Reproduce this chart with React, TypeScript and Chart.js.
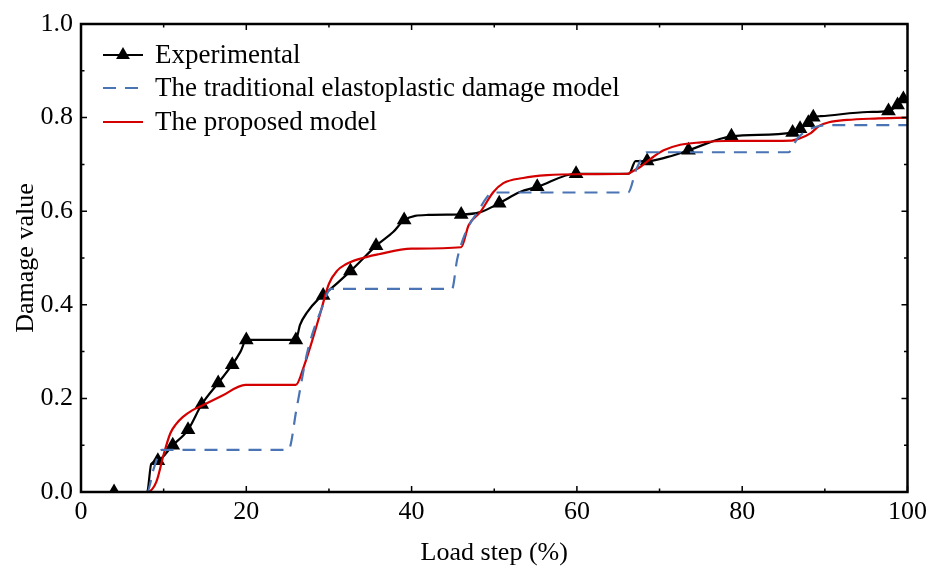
import React, { useEffect, useRef } from "react";
import { Chart, registerables } from "chart.js";

Chart.register(...registerables);

// Experimental data (x = load step %, y = damage value, m = marked with triangle)
const expX = [4, 8, 8.5, 9.3, 11.1, 12.95, 14.6, 16.6, 18.3, 19.3, 20, 26, 26.5, 27.4, 28.6, 29.3, 32.6, 35.7, 37.8, 39.1, 42, 46, 48.3, 50.6, 53.1, 55.2, 59.9, 66.3, 67.1, 68.5, 71, 73.5, 78.7, 86.1, 87.0, 88.0, 88.6, 89.5, 95.2, 97.7, 98.8, 99.5];
const expY = [0, 0, 0.06, 0.067, 0.1, 0.133, 0.187, 0.233, 0.272, 0.3, 0.325, 0.325, 0.357, 0.385, 0.41, 0.42, 0.472, 0.526, 0.556, 0.581, 0.592, 0.593, 0.598, 0.617, 0.641, 0.652, 0.68, 0.68, 0.707, 0.707, 0.716, 0.73, 0.76, 0.768, 0.776, 0.789, 0.801, 0.803, 0.812, 0.814, 0.827, 0.84];
const expMarked = [1, 0, 0, 1, 1, 1, 1, 1, 1, 0, 1, 1, 0, 0, 0, 1, 1, 1, 0, 1, 0, 1, 0, 1, 0, 1, 1, 0, 0, 1, 0, 1, 1, 1, 1, 1, 1, 0, 0, 1, 1, 1];

// Traditional elastoplastic damage model
const tradX = [0, 8, 8.8, 9.8, 25.1, 26.1, 27.4, 29.3, 30.2, 44.9, 45.5, 46.5, 47.9, 49.9, 66.2, 67.2, 68.5, 85.6, 86.7, 87.9, 90.3, 100];
const tradY = [0, 0, 0.05, 0.09, 0.09, 0.18, 0.3, 0.4, 0.434, 0.434, 0.496, 0.553, 0.596, 0.64, 0.64, 0.69, 0.726, 0.726, 0.756, 0.773, 0.784, 0.784];

// Proposed model
const propX = [0, 8, 9.1, 10, 10.8, 11.5, 12.3, 13.5, 14.8, 17, 19.9, 26, 27, 28, 29, 30, 31, 32, 33.5, 36, 40, 46, 46.9, 48.3, 49.9, 51.1, 53.5, 56.4, 60, 66.1, 66.8, 67.7, 69, 70.5, 72.5, 75, 78, 86, 87, 88.3, 89.3, 90.5, 92.7, 96, 100];
const propY = [0, 0, 0.021, 0.08, 0.125, 0.145, 0.16, 0.175, 0.186, 0.205, 0.229, 0.229, 0.27, 0.325, 0.385, 0.445, 0.473, 0.486, 0.497, 0.508, 0.52, 0.523, 0.57, 0.598, 0.641, 0.66, 0.671, 0.677, 0.679, 0.68, 0.686, 0.695, 0.713, 0.73, 0.742, 0.747, 0.75, 0.751, 0.756, 0.767, 0.782, 0.79, 0.795, 0.798, 0.8];

const xTickValues = [0, 20, 40, 60, 80, 100];
const yTickValues = [0, 0.2, 0.4, 0.6, 0.8, 1.0];
const legendLabels = ["Experimental", "The traditional elastoplastic damage model", "The proposed model"];

const FONT = "'Liberation Serif', 'Times New Roman', serif";
const BLUE = "#4a74b4";
const RED = "#d40000";

const framePlugin = {
  id: "frameTicks",
  afterDatasetsDraw(chart: any) {
    const { ctx, chartArea } = chart;
    const xs = chart.scales.x;
    const ys = chart.scales.y;
    const { left, right, top, bottom } = chartArea;
    ctx.save();
    ctx.strokeStyle = "#000";
    ctx.lineWidth = 1.5;
    for (let v = 0; v <= 100; v += 10) {
      const px = xs.getPixelForValue(v);
      const len = v % 20 === 0 ? 6 : 3.5;
      ctx.beginPath();
      ctx.moveTo(px, bottom);
      ctx.lineTo(px, bottom - len);
      ctx.moveTo(px, top);
      ctx.lineTo(px, top + len);
      ctx.stroke();
    }
    for (let i = 0; i <= 10; i++) {
      const v = i / 10;
      const py = ys.getPixelForValue(v);
      const len = i % 2 === 0 ? 6 : 3.5;
      ctx.beginPath();
      ctx.moveTo(left, py);
      ctx.lineTo(left + len, py);
      ctx.moveTo(right, py);
      ctx.lineTo(right - len, py);
      ctx.stroke();
    }
    ctx.lineWidth = 2.5;
    ctx.strokeRect(left, top, right - left, bottom - top);

    // legend
    const lx0 = left + 22;
    const lx1 = left + 62;
    const tx = left + 74;
    const rows = [top + 31, top + 64, top + 98];
    ctx.font = `27px ${FONT}`;
    ctx.textBaseline = "middle";
    ctx.textAlign = "left";
    rows.forEach((y, i) => {
      ctx.beginPath();
      ctx.lineWidth = 2;
      if (i === 0) {
        ctx.strokeStyle = "#000";
        ctx.setLineDash([]);
      } else if (i === 1) {
        ctx.strokeStyle = BLUE;
        ctx.setLineDash([13, 9]);
      } else {
        ctx.strokeStyle = RED;
        ctx.setLineDash([]);
      }
      ctx.moveTo(lx0, y);
      ctx.lineTo(lx1, y);
      ctx.stroke();
      ctx.setLineDash([]);
      if (i === 0) {
        const cx = (lx0 + lx1) / 2;
        const r = 8;
        ctx.fillStyle = "#000";
        ctx.beginPath();
        ctx.moveTo(cx, y - r);
        ctx.lineTo(cx + r * 0.866, y + r / 2);
        ctx.lineTo(cx - r * 0.866, y + r / 2);
        ctx.closePath();
        ctx.fill();
      }
      ctx.fillStyle = "#000";
      ctx.fillText(legendLabels[i], tx, y + 1);
    });
    ctx.restore();
  },
};

export default function App() {
  const ref = useRef<HTMLCanvasElement | null>(null);
  useEffect(() => {
    document.body.style.margin = "0";
    if (!ref.current) return;
    const expData = expX.map((x, i) => ({ x, y: expY[i] }));
    const tradData = tradX.map((x, i) => ({ x, y: tradY[i] }));
    const propData = propX.map((x, i) => ({ x, y: propY[i] }));
    const chart = new Chart(ref.current, {
      type: "line",
      data: {
        datasets: [
          {
            label: legendLabels[1],
            data: tradData,
            borderColor: BLUE,
            borderWidth: 2.2,
            borderDash: [13, 9],
            pointRadius: 0,
            cubicInterpolationMode: "monotone",
            fill: false,
          },
          {
            label: legendLabels[2],
            data: propData,
            borderColor: RED,
            borderWidth: 2.2,
            pointRadius: 0,
            cubicInterpolationMode: "monotone",
            fill: false,
          },
          {
            label: legendLabels[0],
            data: expData,
            borderColor: "#000",
            backgroundColor: "#000",
            borderWidth: 2.2,
            pointStyle: "triangle",
            pointRadius: expMarked.map((m) => (m ? 8.5 : 0)),
            pointHoverRadius: 0,
            pointBorderWidth: 0,
            pointBackgroundColor: "#000",
            cubicInterpolationMode: "monotone",
            fill: false,
          },
        ],
      },
      options: {
        animation: false,
        responsive: false,
        maintainAspectRatio: false,
        layout: { padding: { top: 24, right: 21, left: 0, bottom: 0 } },
        plugins: { legend: { display: false }, tooltip: { enabled: false } },
        events: [],
        scales: {
          x: {
            type: "linear",
            min: 0,
            max: 100,
            afterBuildTicks: (s: any) => {
              s.ticks = xTickValues.map((v) => ({ value: v }));
            },
            afterFit: (s: any) => {
              s.height = 77;
            },
            grid: { display: false, drawTicks: false },
            border: { display: false },
            ticks: {
              color: "#000",
              font: { family: FONT, size: 26 },
              padding: 5,
              maxRotation: 0,
              autoSkip: false,
              callback: (v: any) => String(v),
            },
            title: {
              display: true,
              text: "Load step (%)",
              color: "#000",
              font: { family: FONT, size: 26 },
              padding: { top: 0, bottom: 0 },
            },
          },
          y: {
            type: "linear",
            min: 0,
            max: 1,
            afterBuildTicks: (s: any) => {
              s.ticks = yTickValues.map((v) => ({ value: v }));
            },
            afterFit: (s: any) => {
              s.width = 81;
            },
            grid: { display: false, drawTicks: false },
            border: { display: false },
            ticks: {
              color: "#000",
              font: { family: FONT, size: 26 },
              padding: 8,
              autoSkip: false,
              callback: (v: any) => Number(v).toFixed(1),
            },
            title: {
              display: true,
              text: "Damage value",
              color: "#000",
              font: { family: FONT, size: 26 },
              padding: { top: 11, bottom: 0 },
            },
          },
        },
      },
      plugins: [framePlugin],
    });
    return () => chart.destroy();
  }, []);
  return (
    <div style={{ width: 932, height: 569, background: "#fff" }}>
      <canvas ref={ref} width={932} height={569} style={{ display: "block", width: 932, height: 569 }} />
    </div>
  );
}
